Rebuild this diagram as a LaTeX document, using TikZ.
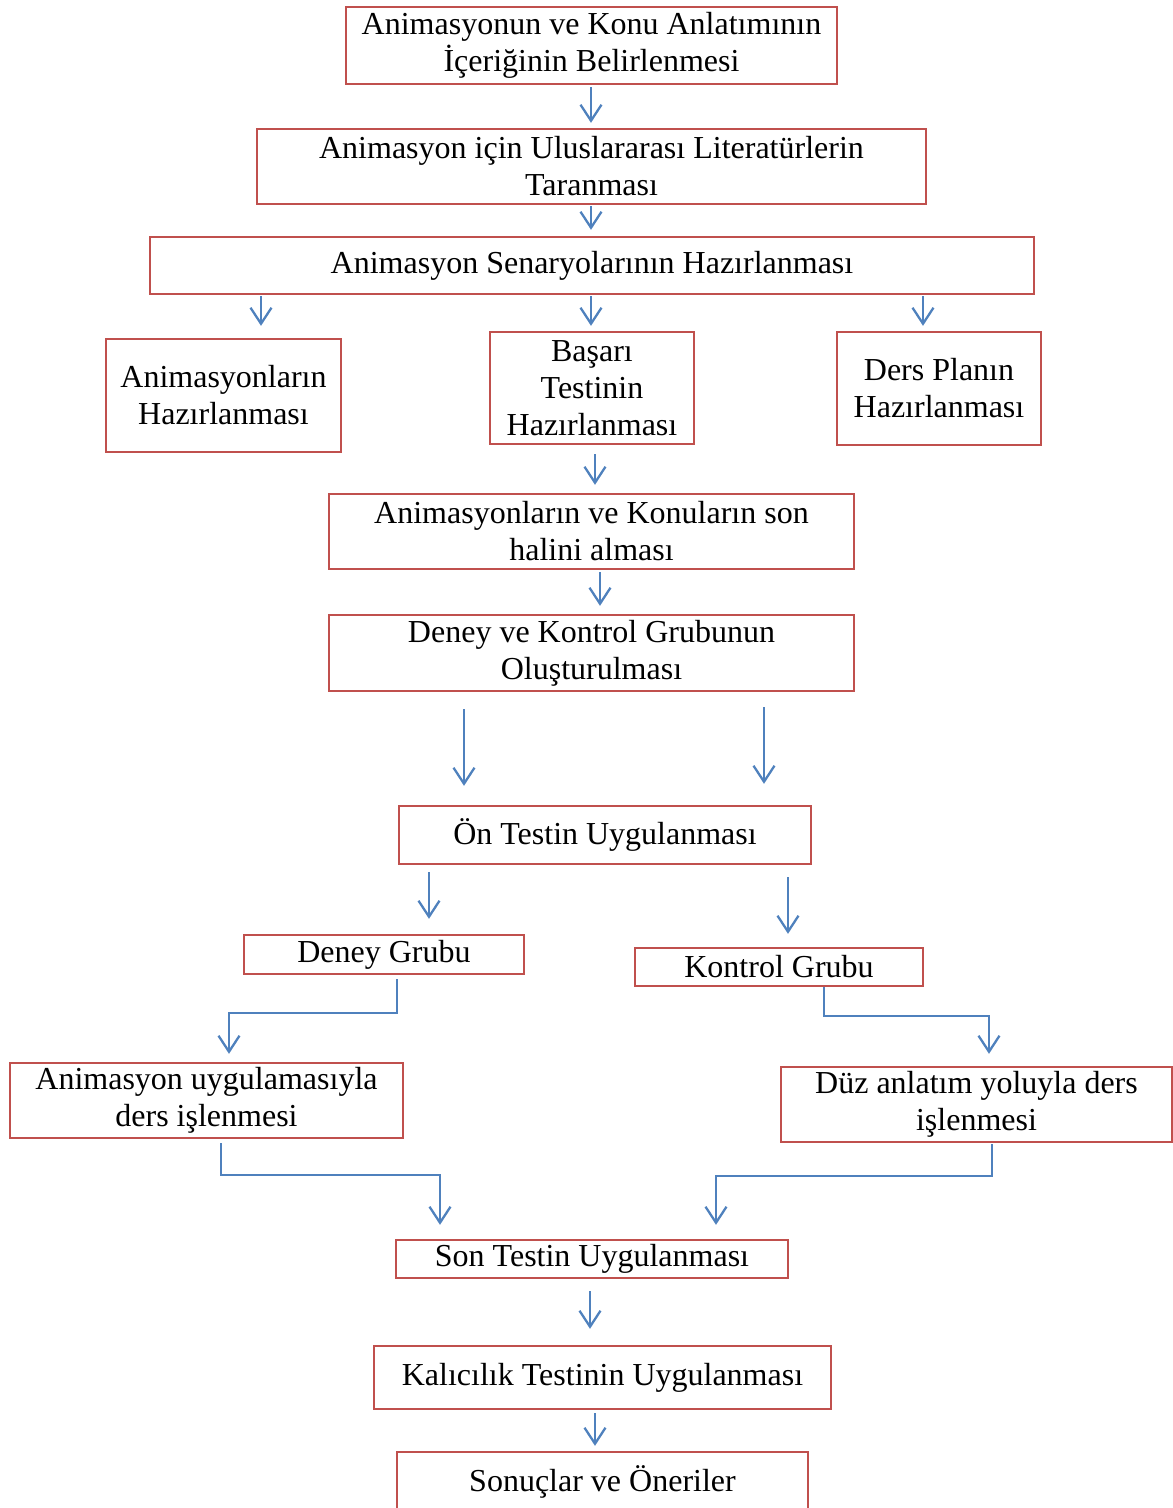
\documentclass[tikz,border=0pt]{standalone}
\usepackage{fontspec}
\setmainfont{Liberation Serif}
\usetikzlibrary{arrows.meta}
\definecolor{kirmizi}{HTML}{C0504D}
\definecolor{mavi}{HTML}{4F81BD}
\begin{document}
\begin{tikzpicture}[x=1pt,y=-1pt,
  kutu/.style={draw=kirmizi, line width=2.4pt, align=center, inner sep=0pt,
    font=\fontsize{32}{37}\selectfont},
  ok/.style={draw=mavi, line width=2.3pt, -{Straight Barb[length=16pt,width=21pt]}}]
\useasboundingbox (0,0) rectangle (1173,1508);
% kutular
\node[kutu, minimum width=491pt, minimum height=77pt] (A) at (591.5,45.5) {Animasyonun ve Konu Anlatımının\\İçeriğinin Belirlenmesi};
\node[kutu, minimum width=669pt, minimum height=75pt] (B) at (591.5,166.5) {Animasyon için Uluslararası Literatürlerin\\Taranması};
\node[kutu, minimum width=884pt, minimum height=57pt] (C) at (592,265.5) {Animasyon Senaryolarının Hazırlanması};
\node[kutu, minimum width=235pt, minimum height=113pt] (D1) at (223.5,395.5) {Animasyonların\\Hazırlanması};
\node[kutu, minimum width=204pt, minimum height=112pt] (D2) at (592,388) {Başarı\\Testinin\\Hazırlanması};
\node[kutu, minimum width=204pt, minimum height=113pt] (D3) at (939,388.5) {Ders Planın\\Hazırlanması};
\node[kutu, minimum width=525pt, minimum height=75pt] (E) at (591.5,531.5) {Animasyonların ve Konuların son\\halini alması};
\node[kutu, minimum width=525pt, minimum height=76pt] (F) at (591.5,653) {Deney ve Kontrol Grubunun\\Oluşturulması};
\node[kutu, minimum width=412pt, minimum height=58pt] (G) at (605,835) {Ön Testin Uygulanması};
\node[kutu, minimum width=280pt, minimum height=39pt] (H1) at (384,954.5) {Deney Grubu};
\node[kutu, minimum width=288pt, minimum height=38pt] (H2) at (779,967) {Kontrol Grubu};
\node[kutu, minimum width=393pt, minimum height=75pt] (I1) at (206.5,1100.5) {Animasyon uygulamasıyla\\ders işlenmesi};
\node[kutu, minimum width=391pt, minimum height=75pt] (I2) at (976.5,1104.5) {Düz anlatım yoluyla ders\\işlenmesi};
\node[kutu, minimum width=392pt, minimum height=38pt] (J) at (592,1259) {Son Testin Uygulanması};
\node[kutu, minimum width=457pt, minimum height=63pt] (K) at (602.5,1377.5) {Kalıcılık Testinin Uygulanması};
\node[kutu, minimum width=411pt, minimum height=60pt] (L) at (602.5,1482) {Sonuçlar ve Öneriler};
% oklar
\draw[ok, shorten <=2pt, shorten >=5pt] (591,0 |- A.south) -- (591,0 |- B.north);
\draw[ok, shorten <=1pt, shorten >=6pt] (591,0 |- B.south) -- (591,0 |- C.north);
\draw[ok, shorten <=1pt, shorten >=12pt] (261,0 |- C.south) -- (261,0 |- D1.north);
\draw[ok, shorten <=1pt, shorten >=5pt] (591,0 |- C.south) -- (591,0 |- D2.north);
\draw[ok, shorten <=1pt, shorten >=5pt] (923,0 |- C.south) -- (923,0 |- D3.north);
\draw[ok, shorten <=9pt, shorten >=8pt] (595,0 |- D2.south) -- (595,0 |- E.north);
\draw[ok, shorten <=2pt, shorten >=8pt] (600,0 |- E.south) -- (600,0 |- F.north);
\draw[ok, shorten <=17pt, shorten >=19pt] (464,0 |- F.south) -- (464,0 |- G.north);
\draw[ok, shorten <=15pt, shorten >=21pt] (764,0 |- F.south) -- (764,0 |- G.north);
\draw[ok, shorten <=7pt, shorten >=15pt] (429,0 |- G.south) -- (429,0 |- H1.north);
\draw[ok, shorten <=12pt, shorten >=13pt] (788,0 |- G.south) -- (788,0 |- H2.north);
\draw[ok, shorten <=4pt, shorten >=8pt] (397,0 |- H1.south) |- (229,1013) -- (229,0 |- I1.north);
\draw[ok, shorten >=12pt] (824,0 |- H2.south) |- (989,1016) -- (989,0 |- I2.north);
\draw[ok, shorten <=4pt, shorten >=14pt] (221,0 |- I1.south) |- (440,1175) -- (440,0 |- J.north);
\draw[ok, shorten <=1pt, shorten >=14pt] (992,0 |- I2.south) |- (716,1176) -- (716,0 |- J.north);
\draw[ok, shorten <=12pt, shorten >=16pt] (590,0 |- J.south) -- (590,0 |- K.north);
\draw[ok, shorten <=3pt, shorten >=5pt] (595,0 |- K.south) -- (595,0 |- L.north);
\end{tikzpicture}
\end{document}
